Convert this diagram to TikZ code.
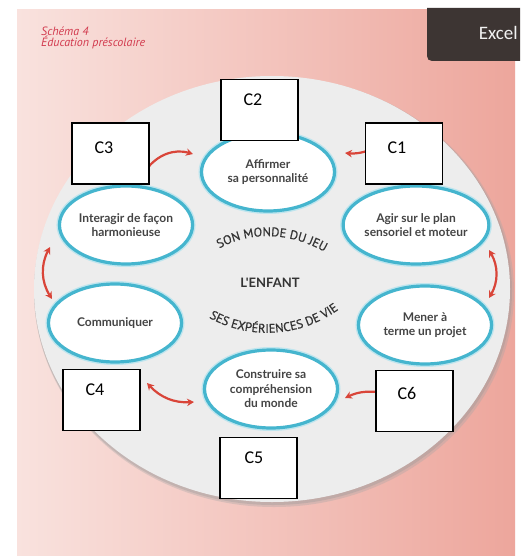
\documentclass[tikz,border=0pt]{standalone}
\usepackage{fontspec}
\setmainfont{PT Sans}
\newfontfamily\calibrifont{Carlito}
\newfontfamily\latofont{Lato}
\newfontfamily\arcfont[FakeBold=0.6]{PT Sans}
\usetikzlibrary{arrows.meta,decorations.text,shapes.geometric}
\definecolor{bgL}{HTML}{F9E2DE}
\definecolor{bgR}{HTML}{EDA69C}
\definecolor{excelc}{HTML}{3D3533}
\definecolor{bigg}{HTML}{EDEDED}
\definecolor{tealc}{HTML}{45B5CE}
\definecolor{txtc}{HTML}{444444}
\definecolor{arcc}{HTML}{333333}
\definecolor{redc}{HTML}{D94539}
\definecolor{headc}{HTML}{D23A4E}
\tikzset{
  skill/.style={ellipse, fill=white, draw=tealc, line width=3.2pt,
    preaction={draw=tealc!35, line width=6pt},
    minimum width=133pt, minimum height=78pt, inner sep=0pt,
    align=center, text=txtc, font=\latofont\fontsize{12}{14.5}\selectfont\bfseries},
  cbox/.style={rectangle, draw=black, line width=1.1pt, fill=white,
    minimum width=77pt, minimum height=61pt, inner sep=0pt},
  clab/.style={font=\calibrifont\fontsize{18}{18}\selectfont, text=black, inner sep=0pt},
  redarrow/.style={draw=redc, line width=2.2pt, line cap=round,
    arrows={-Stealth[length=7pt,width=7.5pt]}},
  redarrow2/.style={draw=redc, line width=2.2pt,
    arrows={Stealth[length=7pt,width=7.5pt]-Stealth[length=7pt,width=7.5pt]}}
}
\begin{document}
\begin{tikzpicture}[x=1pt,y=-1pt]
\useasboundingbox (0,0) rectangle (527,556);
\fill[white] (0,0) rectangle (527,556);
\shade[left color=bgL, right color=bgR] (17,10) rectangle (515,555);
% Excel tab
\fill[excelc] (427,8) -- (520,8) -- (520,61) -- (432,61) .. controls (429,61) and (427,59) .. (427,56) -- cycle;
\node[font=\calibrifont\fontsize{19}{19}\selectfont, text=white!90!gray, anchor=east, inner sep=0pt] (excel) at (518,33) {Excel};
% header
\node[anchor=north west, align=left, inner sep=0pt, text=headc,
  font=\fontsize{12}{11}\selectfont\itshape] (head) at (41,27) {Schéma 4\\Éducation préscolaire};
% big ellipse with shadow
\fill[gray!70, opacity=0.35] (274,292) ellipse [x radius=240, y radius=215];
\fill[gray!80, opacity=0.35] (273,291) ellipse [x radius=239, y radius=214];
\fill[bigg] (272,289) ellipse [x radius=238, y radius=213];
% centre texts
\node[font=\latofont\fontsize{13}{13}\selectfont\bfseries, text=arcc] (enfant) at (270,283) {L'ENFANT};
\path[decorate, decoration={text along path, text align=center,
  text={|\arcfont\fontsize{12.5}{12.5}\selectfont\color{arcc}|SON MONDE DU JEU}}]
  (208,256) .. controls (243,229) and (293,229) .. (336,259);
\path[decorate, decoration={text along path, text align=center,
  text={|\arcfont\fontsize{12.5}{12.5}\selectfont\color{arcc}|SES EXPÉRIENCES DE VIE}}]
  (200,312) .. controls (243,342) and (304,340) .. (347,303);
% skill ellipses
\node[skill] (aff) at (268,172) {Affirmer\\sa personnalité};
\node[skill] (inter) at (126,225) {Interagir de façon\\harmonieuse};
\node[skill] (agir) at (416,225) {Agir sur le plan\\sensoriel et moteur};
\node[skill] (comm) at (115,323) {Communiquer};
\node[skill] (mener) at (425,325) {Mener à\\terme un projet};
\node[skill] (constr) at (271,389) {Construire sa\\compréhension\\du monde};
% arrow end points
\coordinate (a1s) at (146,170);
\coordinate (a1e) at (193,154);
\coordinate (a2s) at (370,150);
\coordinate (a2e) at (345,153);
\coordinate (a3s) at (489,250);
\coordinate (a3e) at (489,298);
\coordinate (a4s) at (50,247);
\coordinate (a4e) at (52,299);
\coordinate (a5s) at (147,383);
\coordinate (a5e) at (194,402);
\coordinate (a6s) at (378,392);
\coordinate (a6e) at (345,398);
\draw[redarrow] (a1s) to[bend left=35] (a1e);
\draw[redarrow] (a2s) to[bend left=12] (a2e);
\draw[redarrow2] (a3s) to[bend left=30] (a3e);
\draw[redarrow2] (a4s) to[bend right=30] (a4e);
\draw[redarrow2] (a5s) to[bend right=25] (a5e);
\draw[redarrow] (a6s) to[bend right=15] (a6e);
% C boxes
\node[cbox, label={[clab, xshift=-6.5pt, yshift=10pt]center:C2}] (C2) at (259.5,110) {};
\node[cbox, label={[clab, xshift=-6.5pt, yshift=5.5pt]center:C3}] (C3) at (110.5,153.5) {};
\node[cbox, label={[clab, xshift=-7pt, yshift=5.5pt]center:C1}] (C1) at (404,153.5) {};
\node[cbox, label={[clab, xshift=-6.5pt, yshift=10pt]center:C4}] (C4) at (101.5,400) {};
\node[cbox, label={[clab, xshift=-4.5pt, yshift=10pt]center:C5}] (C5) at (258.5,468) {};
\node[cbox, label={[clab, xshift=-7.5pt, yshift=8pt]center:C6}] (C6) at (414.5,401) {};
\end{tikzpicture}
\end{document}
